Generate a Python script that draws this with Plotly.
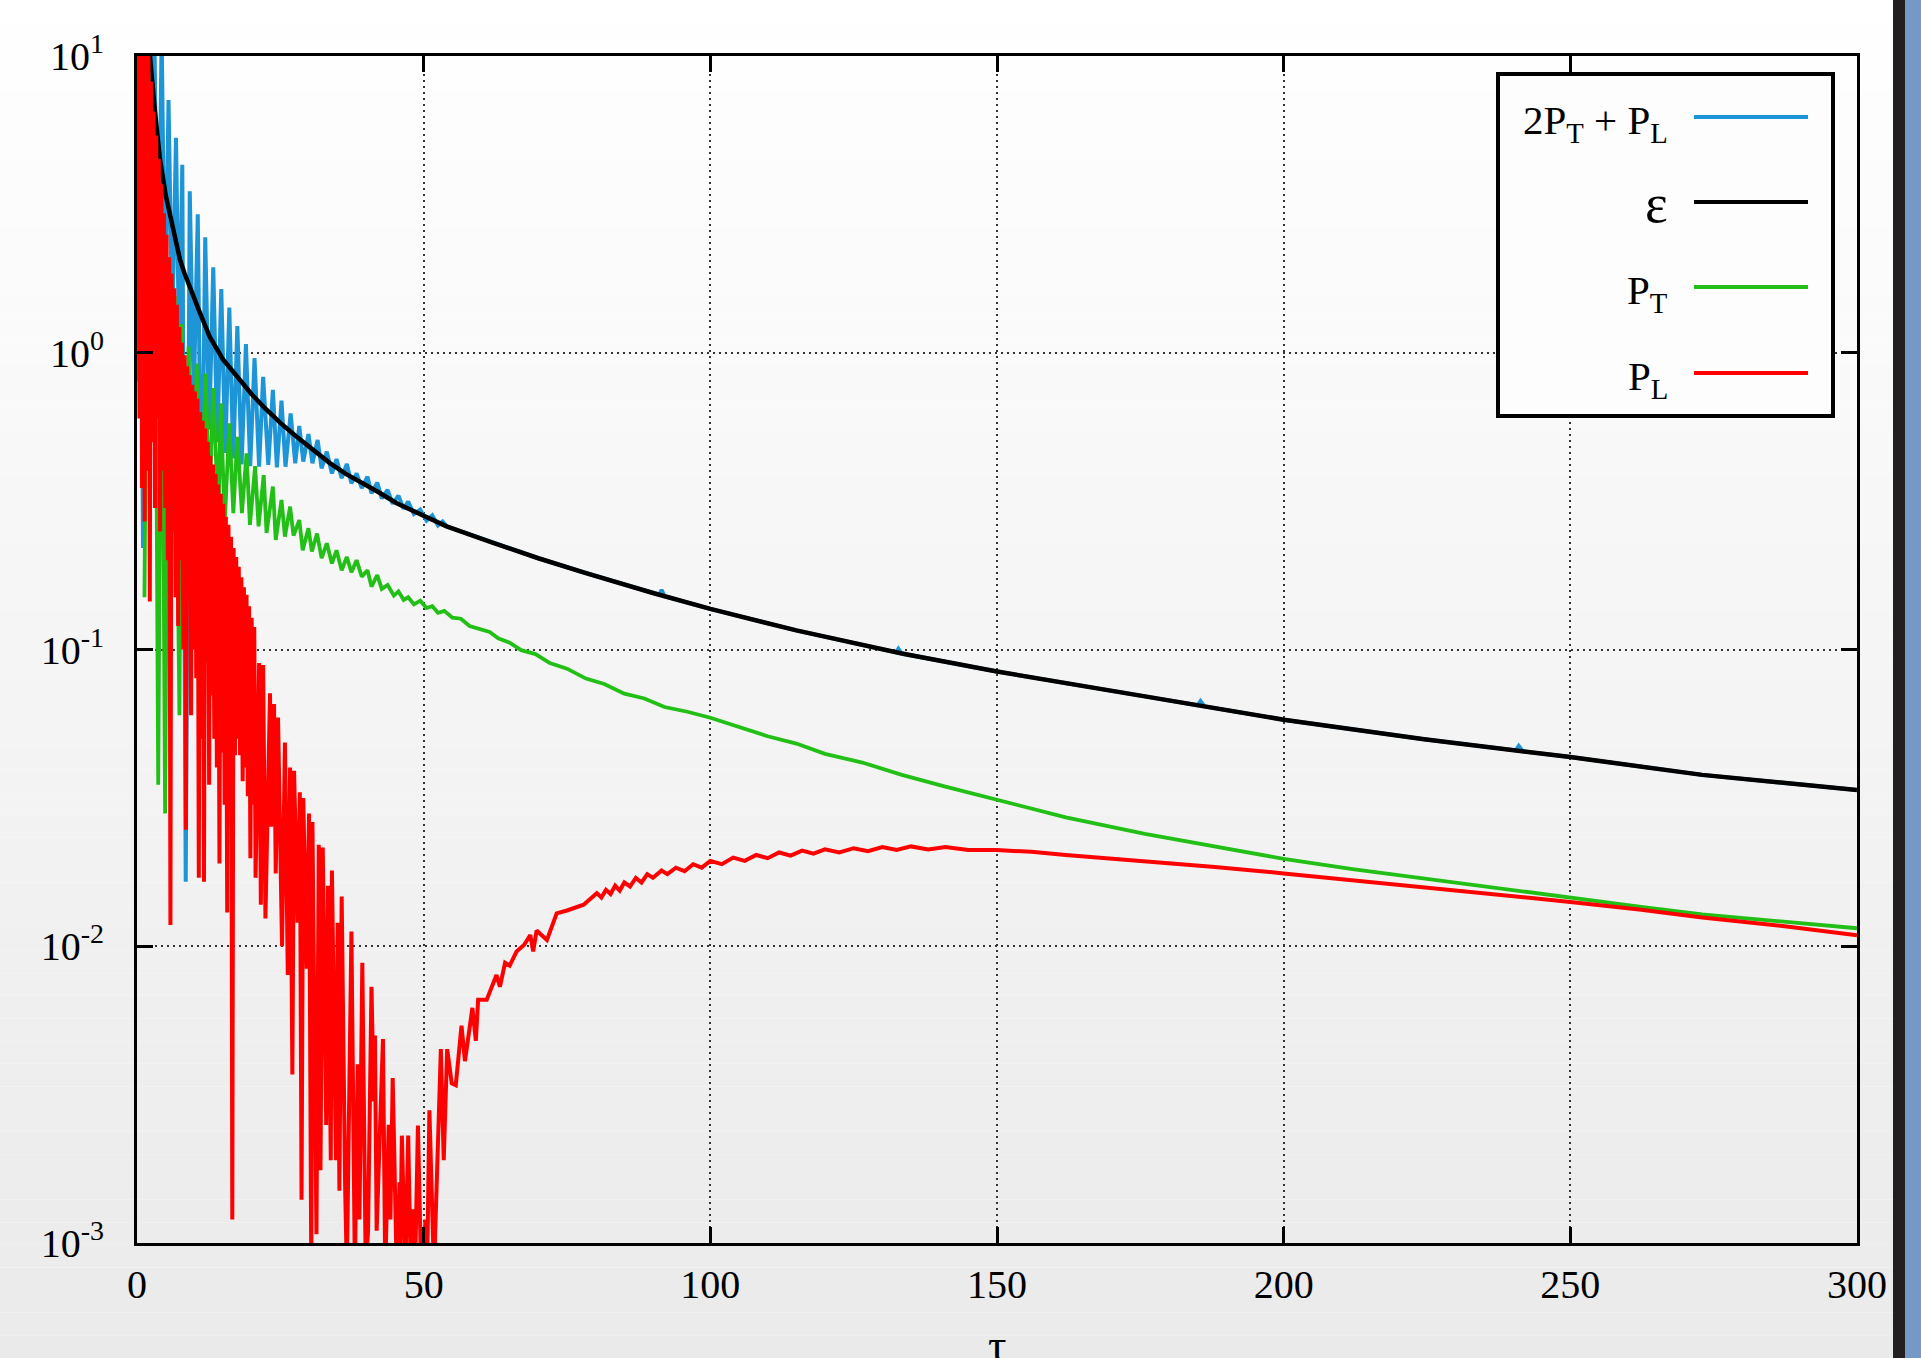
import plotly.graph_objects as go

# ---------------- data ----------------
# energy density epsilon (black)
t_eps = [1.5, 2.0, 2.3, 3.1, 4.0, 5.0, 5.8, 6.6, 7.5, 8.3, 9.2, 10.0, 11.0, 12.7, 15.0, 16.2,
         18.0, 20.0, 22.0, 25.0, 27.9, 30.0, 33.7, 36.5, 39.5, 42.0, 45.3, 50.0, 54.0, 62.0,
         70.0, 78.3, 90.0, 100.0, 115.0, 133.4, 150.0, 175.8, 200.0, 224.5, 250.0, 273.0, 300.0]
eps = [16, 11.5, 9.8, 6.6, 4.5, 3.4, 2.87, 2.4, 2.06, 1.85, 1.66, 1.52, 1.36, 1.13, 0.95, 0.89,
       0.805, 0.725, 0.66, 0.58, 0.52, 0.483, 0.424, 0.39, 0.363, 0.34, 0.311, 0.282, 0.26, 0.229,
       0.203, 0.181, 0.155, 0.137, 0.116, 0.0969, 0.0843, 0.0695, 0.058, 0.0498, 0.0434, 0.0378, 0.0336]

# 2 P_T + P_L (blue)
t_sum = [0.0, 0.45, 1.05, 1.7, 2.35, 3.0, 3.65, 4.3, 4.9, 5.5, 6.15, 6.8, 7.35, 7.9, 8.5, 9.2,
         9.9, 10.6, 11.25, 11.9, 12.6, 13.3, 14.0, 14.7, 15.4, 16.1, 16.8, 17.5, 18.25, 19.0,
         19.75, 20.5, 21.3, 22.0, 22.9, 23.7, 24.4, 25.2, 25.9, 26.8, 27.6, 28.3, 29.0, 29.9,
         30.6, 31.5, 32.2, 33.1, 34.0, 34.8, 35.7, 36.6, 37.4, 38.3, 39.2, 40.2, 40.9, 41.9,
         42.7, 43.7, 44.6, 45.6, 46.5, 47.3, 48.3, 49.4, 50.5, 51.5, 52.5, 53.3, 54.0,
         62.0, 70.0, 78.3, 90.0, 91.1, 91.5, 92.0, 100.0, 115.0, 132.4, 132.8, 133.4, 150.0,
         175.8, 185.0, 185.5, 186.2, 200.0, 224.5, 240.5, 241.0, 241.7, 250.0, 273.0, 300.0]
p_sum = [0.8, 14, 0.22, 14, 0.9, 14, 1.1, 12, 1.3, 7.1, 1.2, 5.3, 1.0, 4.3, 0.0165, 3.5,
         0.7, 2.93, 0.216, 2.45, 0.55, 1.94, 0.5, 1.64, 0.46, 1.42, 0.44, 1.23, 0.42, 1.07,
         0.415, 0.96, 0.413, 0.83, 0.419, 0.75, 0.411, 0.69, 0.413, 0.625, 0.424, 0.567, 0.43, 0.532,
         0.424, 0.508, 0.408, 0.464, 0.392, 0.438, 0.378, 0.422, 0.363, 0.392, 0.35, 0.382, 0.336, 0.365,
         0.323, 0.345, 0.31, 0.33, 0.298, 0.315, 0.286, 0.296, 0.272, 0.283, 0.262, 0.27, 0.26,
         0.229, 0.203, 0.181, 0.155, 0.1529, 0.159, 0.1512, 0.137, 0.116, 0.0978, 0.1005, 0.0969, 0.0843,
         0.0695, 0.0649, 0.067, 0.0643, 0.058, 0.0498, 0.0457, 0.0473, 0.0454, 0.0434, 0.0378, 0.0336]

# P_T (green)
t_pt = [1.3, 2.0, 2.6, 3.1, 3.7, 4.3, 4.9, 5.5, 6.1, 6.6, 7.4, 7.8, 8.5, 9.0, 9.7,
        10.4, 11.1, 12.0, 12.6, 13.3, 14.2, 14.6, 15.3, 16.1, 16.8, 17.5, 18.3, 19.1, 19.7, 20.6,
        21.2, 22.1, 22.6, 23.7, 24.2, 25.2, 25.8, 26.7, 27.3, 28.3, 28.9, 29.9, 30.5, 31.4, 32.2,
        33.1, 34.0, 34.8, 35.7, 36.6, 37.4, 38.3, 39.2, 40.2, 40.9, 41.9, 42.7, 43.7, 44.8, 45.6,
        46.5, 47.3, 48.3, 49.4, 50.5, 51.5, 52.5, 53.6, 55.0, 56.5, 58.0, 60.0, 61.5, 63.0, 65.0,
        67.0, 69.5, 72.0, 75.0, 78.3, 81.5, 85.0, 88.5, 92.0, 96.0, 100.0, 105.0, 110.0, 115.0,
        120.0, 126.5, 133.4, 141.0, 150.0, 162.0, 175.8, 188.0, 200.0, 212.0, 224.5, 237.0, 250.0,
        262.0, 273.0, 287.0, 300.0]
p_t = [0.15, 8.8, 0.5, 5.0, 0.035, 2.8, 0.028, 2.1, 0.35, 1.55, 0.06, 1.25, 0.2, 1.05, 0.13,
       0.92, 0.3, 0.85, 0.3, 0.76, 0.273, 0.676, 0.267, 0.578, 0.288, 0.521, 0.288, 0.458, 0.263, 0.415,
       0.26, 0.387, 0.247, 0.354, 0.234, 0.319, 0.24, 0.303, 0.242, 0.273, 0.216, 0.256, 0.214, 0.246, 0.203,
       0.228, 0.195, 0.216, 0.185, 0.205, 0.182, 0.2, 0.176, 0.185, 0.163, 0.178, 0.16, 0.165, 0.152, 0.157,
       0.147, 0.15, 0.142, 0.146, 0.138, 0.14, 0.133, 0.135, 0.128, 0.127, 0.12, 0.117, 0.1145, 0.109, 0.1055,
       0.0995, 0.0965, 0.09, 0.0862, 0.0798, 0.0765, 0.071, 0.0684, 0.064, 0.0617, 0.0589, 0.0546, 0.051, 0.0482,
       0.0445, 0.0416, 0.0378, 0.0345, 0.0311, 0.0272, 0.0239, 0.0216, 0.0197, 0.0182, 0.0169, 0.0157, 0.0145,
       0.0136, 0.0128, 0.0121, 0.0115]

# P_L (red)
t_pl = [0.0, 0.2, 0.43, 0.65, 0.88, 1.1, 1.33, 1.55, 1.78, 2.0, 2.23, 2.45, 2.68, 2.9, 3.13, 3.35,
        3.58, 3.8, 4.03, 4.25, 4.48, 4.7, 4.93, 5.15, 5.38, 5.6, 5.83, 6.05, 6.28, 6.5, 6.73, 6.95,
        7.18, 7.4, 7.63, 7.85, 8.08, 8.3, 8.53, 8.75, 8.98, 9.2, 9.43, 9.65, 9.88, 10.1, 10.33, 10.55,
        10.78, 11.0, 11.23, 11.45, 11.68, 11.9, 12.13, 12.35, 12.58, 12.8, 13.03, 13.25, 13.48, 13.7,
        13.93, 14.15, 14.38, 14.6, 14.83, 15.05, 15.28, 15.5, 15.73, 15.95, 16.18, 16.4, 16.62, 16.85,
        17.08, 17.3, 17.53, 17.75, 17.98, 18.2, 18.43, 18.65, 18.88, 19.1, 19.33, 19.55, 19.78, 20.0,
        20.23, 20.45, 20.68, 21.3, 21.6,
        22.0, 22.4, 23.2, 23.4, 23.9, 24.2, 24.6, 25.3, 25.8, 26.3, 26.7, 27.1, 27.4, 28.0, 28.4,
        28.7, 29.0, 29.6, 30.0, 30.4, 30.6, 31.3, 31.7, 32.0, 32.4, 33.0, 33.3, 33.8, 34.0, 34.7,
        35.0, 35.3, 35.7, 36.3, 36.6, 37.4, 38.0, 38.5, 38.8, 39.3, 39.9, 40.3, 40.9, 41.3, 41.5,
        41.8, 42.9, 43.3, 43.9, 44.2, 44.6, 45.3, 45.8, 45.9, 46.2, 46.8, 47.3, 47.7, 48.2, 48.5,
        49.0, 49.5, 50.0, 50.3, 50.6, 51.0, 51.8, 53.0, 53.5, 54.1, 54.9, 55.6, 56.6, 57.2, 58.5,
        59.1, 59.5, 61.0, 61.9, 62.7, 63.3, 64.2, 65.0, 66.2, 67.5, 68.6, 69.1, 69.7, 71.5, 73.2,
        75.0, 77.9, 80.2, 81.0, 81.8, 82.6, 83.4, 84.2, 85.0, 86.0, 87.0, 88.0, 89.0, 90.0, 91.5,
        92.5, 94.0, 95.5, 97.0, 98.5, 100.0, 102.0, 104.0, 106.0, 108.0, 110.0, 112.0, 114.0, 116.0,
        118.0, 120.0, 122.5, 125.0, 127.5, 130.0, 132.5, 135.0, 138.0, 141.0, 145.0, 150.0, 156.0,
        162.0, 168.0, 175.8, 188.0, 200.0, 212.0, 224.5, 237.0, 250.0, 262.0, 273.0, 287.0, 300.0]
p_l = [12, 14, 0.6, 14, 0.35, 14, 0.27, 13, 0.4, 10, 0.145, 8.2, 0.5, 6.5, 0.3, 5.4,
       0.6, 4.5, 0.25, 3.7, 0.4, 2.95, 0.3, 2.5, 0.2, 2.1, 0.0118, 1.85, 0.25, 1.65, 0.15, 1.45,
       0.12, 1.22, 0.2, 1.08, 0.1, 0.98, 0.0247, 0.9, 0.15, 0.84, 0.06, 0.78, 0.1, 0.74, 0.08, 0.7,
       0.017, 0.63, 0.05, 0.59, 0.0165, 0.556, 0.09, 0.5, 0.035, 0.45, 0.07, 0.42, 0.05, 0.39,
       0.04, 0.36, 0.019, 0.335, 0.045, 0.31, 0.03, 0.28, 0.013, 0.263, 0.05, 0.24, 0.0012, 0.22,
       0.044, 0.205, 0.05, 0.19, 0.044, 0.175, 0.036, 0.162, 0.04, 0.153, 0.032, 0.14, 0.0198, 0.128,
       0.03, 0.119, 0.017, 0.09, 0.0138,
       0.0887, 0.0124, 0.0712, 0.0253, 0.0655, 0.0176, 0.059, 0.01, 0.0486, 0.008, 0.04, 0.0037, 0.039, 0.012, 0.033,
       0.0014, 0.0316, 0.0084, 0.028, 0.0008, 0.0262, 0.00107, 0.022, 0.00176, 0.0215, 0.0025, 0.016, 0.0019, 0.018, 0.0019,
       0.012, 0.0015, 0.0147, 0.00155, 0.0008, 0.0112, 0.0008, 0.004, 0.0012, 0.0088, 0.0008, 0.0011, 0.0073, 0.003, 0.005,
       0.0011, 0.00487, 0.0008, 0.0025, 0.0012, 0.0036, 0.0008, 0.0016, 0.0009, 0.0023, 0.0008, 0.0023, 0.0009, 0.0013, 0.0008,
       0.00249, 0.0009, 0.0008, 0.0012, 0.0008, 0.0028, 0.0008, 0.0045, 0.0019, 0.0045, 0.00345, 0.0034, 0.0054, 0.0041, 0.0062,
       0.0048, 0.0066, 0.0066, 0.0073, 0.008, 0.0073, 0.0088, 0.0086, 0.0096, 0.0101, 0.0109, 0.0096, 0.0113, 0.0105, 0.0129,
       0.0132, 0.0138, 0.0151, 0.0146, 0.0155, 0.015, 0.016, 0.0154, 0.0164, 0.0159, 0.017, 0.0164, 0.0175, 0.017, 0.018,
       0.0175, 0.0184, 0.0179, 0.0189, 0.0184, 0.0194, 0.0189, 0.0199, 0.0194, 0.0203, 0.0198, 0.0207, 0.0202, 0.021,
       0.0205, 0.0212, 0.0207, 0.0214, 0.0209, 0.0216, 0.0211, 0.0217, 0.0212, 0.0216, 0.0211, 0.0211, 0.0208,
       0.0203, 0.0199, 0.0194, 0.0185, 0.0176, 0.0167, 0.0157, 0.0149, 0.0141, 0.0133, 0.0125, 0.0117, 0.0109]

x_tickvals = [0, 50, 100, 150, 200, 250, 300]
x_ticktext = ["0", "50", "100", "150", "200", "250", "300"]
y_tickvals = [1e-3, 1e-2, 1e-1, 1, 10]
y_ticktext = ["10<sup>-3</sup>", "10<sup>-2</sup>", "10<sup>-1</sup>", "10<sup>0</sup>", "10<sup>1</sup>"]

legend_labels = ["2P<sub>T</sub> + P<sub>L</sub>", "ε", "P<sub>T</sub>", "P<sub>L</sub>"]
x_title = "τ"

# ---------------- styling ----------------
C_BLUE = "#1e95d7"
C_BLACK = "#000000"
C_GREEN = "#22bf16"
C_RED = "#ff0000"
FONT = "Liberation Serif, Times New Roman, serif"

W, H = 1921, 1358
ML, MR, MT, MB = 137, 64, 56, 115
PW, PH = W - ML - MR, H - MT - MB


def px_x(px):
    return (px - ML) / PW


def px_y(py):
    return (H - MB - py) / PH


fig = go.Figure()
fig.add_trace(go.Scatter(x=t_sum, y=p_sum, mode="lines", line=dict(color=C_BLUE, width=4), name=legend_labels[0]))
fig.add_trace(go.Scatter(x=t_eps, y=eps, mode="lines", line=dict(color=C_BLACK, width=4.5), name=legend_labels[1]))
fig.add_trace(go.Scatter(x=t_pt, y=p_t, mode="lines", line=dict(color=C_GREEN, width=3.8), name=legend_labels[2]))
fig.add_trace(go.Scatter(x=t_pl, y=p_l, mode="lines", line=dict(color=C_RED, width=4), name=legend_labels[3]))

shapes = []
# vertical background gradient (white -> light grey)
n = 60
y_top, y_bot = px_y(0), px_y(H)
for i in range(n):
    f = (i + 0.5) / n
    g = int(round(255 - f * 21))
    shapes.append(dict(type="rect", xref="paper", yref="paper", layer="below",
                       x0=px_x(0), x1=px_x(W), y0=y_top + (y_bot - y_top) * i / n,
                       y1=y_top + (y_bot - y_top) * (i + 1) / n,
                       fillcolor=f"rgb({g},{g},{g})", line=dict(width=0)))
# right-side decorative stripes
shapes.append(dict(type="rect", xref="paper", yref="paper", layer="above",
                   x0=px_x(1893), x1=px_x(1905), y0=y_bot, y1=y_top,
                   fillcolor="#231f20", line=dict(width=0)))
shapes.append(dict(type="rect", xref="paper", yref="paper", layer="above",
                   x0=px_x(1905), x1=px_x(W + 2), y0=y_bot, y1=y_top,
                   fillcolor="#7499c6", line=dict(width=0)))
# legend box
shapes.append(dict(type="rect", xref="paper", yref="paper", layer="above",
                   x0=px_x(1498), x1=px_x(1833), y0=px_y(416), y1=px_y(74),
                   fillcolor="#fdfdfd", line=dict(color="black", width=4)))
legend_colors = [C_BLUE, C_BLACK, C_GREEN, C_RED]
legend_rows = [117, 202, 287, 373]
annotations = []
for lab, col, row in zip(legend_labels, legend_colors, legend_rows):
    shapes.append(dict(type="line", xref="paper", yref="paper", layer="above",
                       x0=px_x(1694), x1=px_x(1808), y0=px_y(row), y1=px_y(row),
                       line=dict(color=col, width=4)))
    big = lab == "ε"
    annotations.append(dict(xref="paper", yref="paper", x=px_x(1670), y=px_y(row + (2 if big else 6)),
                            xanchor="right", yanchor="middle", showarrow=False, text=lab,
                            font=dict(family=FONT, size=54 if big else 41, color="black")))
annotations.append(dict(xref="paper", yref="paper", x=0.5, y=px_y(1318), xanchor="center", yanchor="top",
                        showarrow=False, text=x_title, font=dict(family=FONT, size=46, color="black")))

fig.update_layout(
    width=W, height=H, autosize=False,
    margin=dict(l=ML, r=MR, t=MT, b=MB, pad=0),
    paper_bgcolor="white", plot_bgcolor="rgba(0,0,0,0)",
    showlegend=False, shapes=shapes, annotations=annotations,
    font=dict(family=FONT, size=40, color="black"),
)
fig.update_xaxes(range=[0, 300], tickvals=x_tickvals, ticktext=x_ticktext,
                 ticks="inside", ticklen=16, tickwidth=3, tickcolor="black",
                 showline=True, linewidth=3, linecolor="black", mirror="ticks",
                 showgrid=True, gridcolor="#333333", gridwidth=1.5, griddash="2px,4px",
                 zeroline=False, tickfont=dict(family=FONT, size=40, color="black"),
                 ticklabelstandoff=4)
fig.update_yaxes(type="log", range=[-3, 1], tickvals=y_tickvals, ticktext=y_ticktext,
                 ticks="inside", ticklen=16, tickwidth=3, tickcolor="black",
                 showline=True, linewidth=3, linecolor="black", mirror="ticks",
                 showgrid=True, gridcolor="#333333", gridwidth=1.5, griddash="2px,4px",
                 zeroline=False, tickfont=dict(family=FONT, size=40, color="black"),
                 ticklabelstandoff=22)

fig.write_html("out.html", config={"displayModeBar": False},
               post_script="document.body.style.margin='0';document.body.style.overflow='hidden';")
